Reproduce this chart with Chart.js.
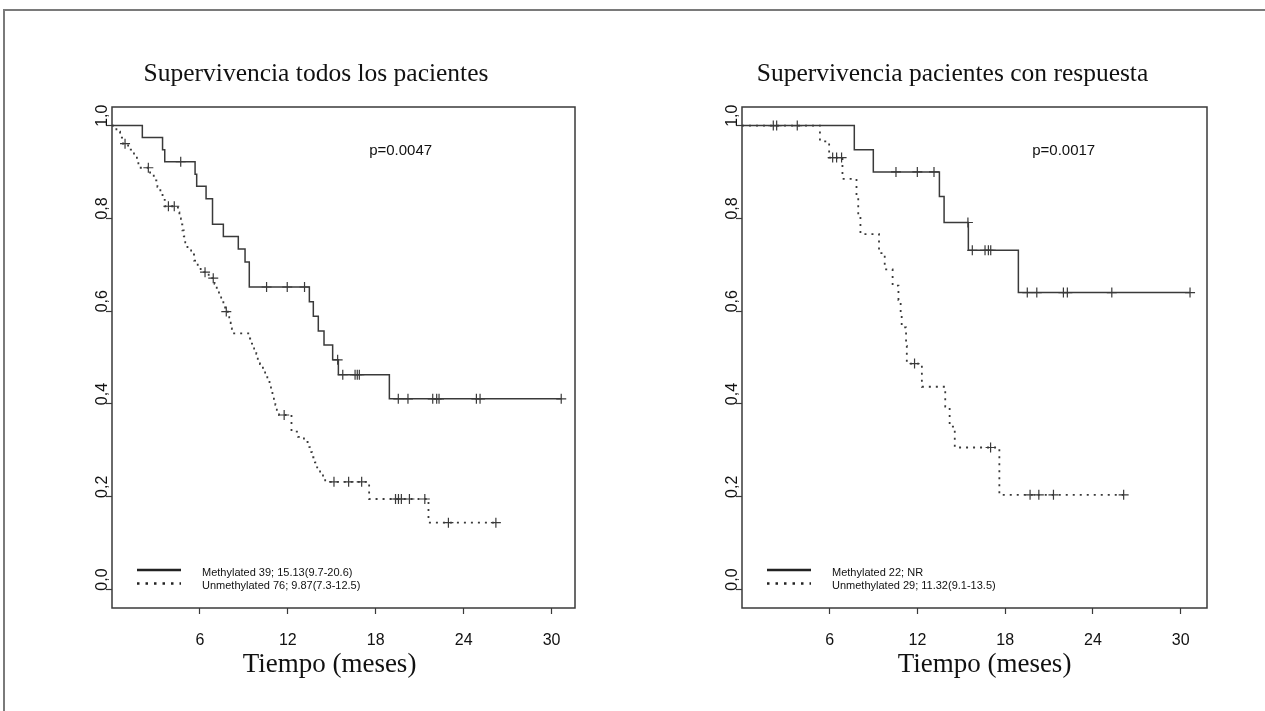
<!DOCTYPE html>
<html>
<head>
<meta charset="utf-8">
<script src="https://cdn.jsdelivr.net/npm/chart.js@4.4.1/dist/chart.umd.min.js"></script>
<style>
  html, body { margin: 0; padding: 0; background: #fff; }
  #page { position: relative; width: 1265px; height: 711px; overflow: hidden; background: #fff; }
  #frame { position: absolute; left: 3px; top: 9px; width: 1400px; height: 900px;
           border-top: 2px solid #7a7a7a; border-left: 2px solid #7a7a7a; }
  .panel { position: absolute; top: 0; }
</style>
</head>
<body>
<div id="page">
  <div id="frame"></div>
  <canvas id="todos" class="panel" width="630" height="711" style="left:0"></canvas>
  <canvas id="respuesta" class="panel" width="635" height="711" style="left:630px"></canvas>
</div>
<script>
const xTicks = [6, 12, 18, 24, 30];
const yTicks = [0, 0.2, 0.4, 0.6, 0.8, 1.0];
const xCaption = 'Tiempo (meses)';

// Supervivencia todos los pacientes
const todosTitle = 'Supervivencia todos los pacientes';
const todosP = 'p=0.0047';
const todosLabels = ['Methylated 39; 15.13(9.7-20.6)', 'Unmethylated 76; 9.87(7.3-12.5)'];

const todosMetTimes = [2.07, 3.45, 3.6, 5.67, 5.78, 6.42, 6.86, 7.6, 8.62, 9.08, 9.37,
  13.47, 13.74, 14.08, 14.47, 15.06, 15.45, 18.93];
const todosMetSurv = [0.974, 0.948, 0.922, 0.895, 0.869, 0.842, 0.787, 0.761, 0.734, 0.706, 0.652,
  0.620, 0.589, 0.557, 0.527, 0.495, 0.463, 0.411];
const todosMetCens = [4.69, 10.55, 11.96, 13.14, 15.4, 15.75, 16.59, 16.74, 16.88,
  19.54, 20.2, 21.89, 22.16, 22.32, 24.87, 25.12, 30.66];

const todosUnmTimes = [0.3, 0.55, 0.75, 1.1, 1.5, 1.7, 1.8, 2.6, 2.85, 3.1, 3.3, 3.45, 3.6,
  4.5, 4.6, 4.7, 4.8, 4.9, 5.0, 5.15, 5.4, 5.6, 5.85, 6.05, 6.6,
  7.0, 7.15, 7.3, 7.45, 7.6, 7.72, 7.9, 8.0, 8.1, 8.18,
  9.3, 9.55, 9.7, 9.85, 9.95, 10.1, 10.3, 10.45, 10.6, 10.75, 10.85, 10.95, 11.05, 11.15, 11.25, 11.4,
  12.25, 12.7, 13.1, 13.35, 13.5, 13.65, 13.85, 14.0, 14.2, 14.4, 14.55, 17.55, 21.6];
const todosUnmSurv = [0.987, 0.974, 0.961, 0.948, 0.935, 0.922, 0.909, 0.895, 0.882, 0.868, 0.854, 0.840, 0.826,
  0.813, 0.800, 0.787, 0.774, 0.761, 0.748, 0.735, 0.722, 0.709, 0.696, 0.684, 0.671,
  0.659, 0.647, 0.635, 0.623, 0.611, 0.599, 0.587, 0.575, 0.563, 0.552,
  0.541, 0.530, 0.519, 0.508, 0.497, 0.486, 0.475, 0.464, 0.453, 0.442, 0.431, 0.420, 0.409, 0.398, 0.387, 0.376,
  0.340, 0.329, 0.318, 0.307, 0.296, 0.285, 0.274, 0.263, 0.252, 0.241, 0.232, 0.195, 0.144];
const todosUnmCens = [0.89, 2.48, 3.85, 4.25, 6.35, 6.91, 7.8, 11.75, 15.15, 16.15, 17.04,
  19.35, 19.55, 19.75, 20.3, 21.35, 22.96, 26.2];

// Supervivencia pacientes con respuesta
const respTitle = 'Supervivencia pacientes con respuesta';
const respP = 'p=0.0017';
const respLabels = ['Methylated 22; NR', 'Unmethylated 29; 11.32(9.1-13.5)'];

const respMetTimes = [7.68, 8.98, 13.5, 13.82, 15.48, 18.9];
const respMetSurv = [0.948, 0.900, 0.847, 0.791, 0.731, 0.640];
const respMetCens = [2.14, 2.37, 3.78, 10.53, 11.99, 13.13, 15.45, 15.75, 16.62, 16.85, 17.01,
  19.51, 20.16, 21.98, 22.25, 25.29, 30.64];

const respUnmTimes = [5.33, 5.96, 6.87, 7.83, 7.95, 8.1, 9.37, 9.76, 10.3, 10.7, 10.85, 10.92,
  11.22, 11.27, 12.3, 13.9, 14.2, 14.55, 17.6];
const respUnmSurv = [0.966, 0.931, 0.885, 0.846, 0.806, 0.766, 0.725, 0.690, 0.655, 0.624, 0.595, 0.565,
  0.525, 0.487, 0.437, 0.394, 0.351, 0.306, 0.204];
const respUnmCens = [6.2, 6.47, 6.81, 11.8, 17.0, 19.7, 20.3, 21.3, 26.1];

const INK = '#3a3a3a';
const SANS = '"Liberation Sans", Arial, sans-serif';
const SERIF = '"Liberation Serif", "Times New Roman", serif';

// Kaplan-Meier step: starts at 1, drops at each event, runs on to the last follow-up
function stepPoints(times, surv, cens) {
  const end = Math.max(...times, ...cens);
  const pts = [{ x: 0, y: 1 }];
  times.forEach((t, i) => pts.push({ x: t, y: surv[i] }));
  pts.push({ x: end, y: surv[surv.length - 1] });
  return pts;
}

function survAt(times, surv, t) {
  let s = 1;
  times.forEach((ti, i) => { if (ti <= t) s = surv[i]; });
  return s;
}

function censorPoints(times, surv, cens) {
  return cens.map(t => ({ x: t, y: survAt(times, surv, t) }));
}

function curve(label, times, surv, cens, dash) {
  return [
    {
      label,
      data: stepPoints(times, surv, cens),
      stepped: true,
      borderColor: INK,
      borderWidth: dash ? 1.8 : 1.5,
      borderDash: dash || [],
      pointRadius: 0,
      fill: false
    },
    {
      label: label + ' (censurados)',
      data: censorPoints(times, surv, cens),
      showLine: false,
      pointStyle: 'cross',
      pointRadius: 5,
      borderColor: INK,
      borderWidth: 1.2
    }
  ];
}

// box round the plot, p value, inline legend and time caption
const panelText = {
  id: 'panelText',
  afterDraw(chart, args, opts) {
    const { ctx, chartArea: a, scales: { x, y } } = chart;
    ctx.save();
    ctx.strokeStyle = INK;
    ctx.lineWidth = 1.5;
    ctx.strokeRect(a.left, a.top, a.right - a.left, a.bottom - a.top);

    ctx.fillStyle = '#111';
    ctx.textBaseline = 'middle';
    ctx.textAlign = 'center';
    ctx.font = '15px ' + SANS;
    ctx.fillText(opts.pText, x.getPixelForValue(opts.pAt[0]), y.getPixelForValue(opts.pAt[1]));

    const curves = chart.data.datasets.filter(d => d.showLine !== false);
    curves.forEach((d, i) => {
      const ly = a.bottom - 38 + i * 13.5;
      ctx.setLineDash(d.borderDash.length ? [2.5, 6] : []);
      ctx.lineWidth = 2.4;
      ctx.strokeStyle = '#222';
      ctx.beginPath();
      ctx.moveTo(a.left + 25, ly);
      ctx.lineTo(a.left + 69, ly);
      ctx.stroke();
      ctx.setLineDash([]);
      ctx.textAlign = 'left';
      ctx.font = '11px ' + SANS;
      ctx.fillText(d.label, a.left + 90, ly + 2.5);
    });

    ctx.textAlign = 'center';
    ctx.font = '27px ' + SERIF;
    ctx.fillText(xCaption, (a.left + a.right) / 2 + opts.captionShift, a.bottom + 57);
    ctx.restore();
  }
};

function makePanel(id, cfg) {
  return new Chart(document.getElementById(id), {
    type: 'line',
    data: { datasets: cfg.datasets },
    options: {
      responsive: false,
      animation: false,
      events: [],
      layout: { padding: { top: 50, left: cfg.padLeft, right: cfg.padRight, bottom: 43 } },
      plugins: {
        legend: { display: false },
        tooltip: { enabled: false },
        title: {
          display: true,
          text: cfg.title,
          color: '#111',
          font: { family: SERIF, size: 25.5, weight: 'normal' },
          padding: { top: 9, bottom: 17.4 }
        },
        panelText: { pText: cfg.pText, pAt: cfg.pAt, captionShift: cfg.captionShift }
      },
      scales: {
        x: {
          type: 'linear',
          min: 0,
          max: cfg.xMax,
          afterBuildTicks: s => { s.ticks = xTicks.map(v => ({ value: v })); },
          afterFit: s => { s.height = 60; },
          border: { display: false },
          grid: { drawOnChartArea: false, tickLength: 6, tickColor: INK, tickWidth: 1.2 },
          ticks: { color: '#111', font: { family: SANS, size: 16 }, padding: 17, maxRotation: 0 }
        },
        y: {
          type: 'linear',
          min: -0.04,
          max: 1.04,
          afterBuildTicks: s => { s.ticks = yTicks.map(v => ({ value: v })); },
          afterFit: s => { s.width = cfg.yWidth; },
          border: { display: false },
          grid: { drawOnChartArea: false, tickLength: 6, tickColor: INK, tickWidth: 1.2 },
          ticks: {
            color: '#111',
            font: { family: SANS, size: 16 },
            minRotation: 90,
            maxRotation: 90,
            crossAlign: 'near',
            padding: 3,
            labelOffset: -21,
            callback: v => v.toFixed(1).replace('.', ',')
          }
        }
      }
    },
    plugins: [panelText]
  });
}

makePanel('todos', {
  title: todosTitle,
  pText: todosP,
  pAt: [19.7, 0.945],
  captionShift: -14,
  xMax: 31.6,
  padLeft: 57,
  padRight: 55,
  yWidth: 55,
  datasets: [
    ...curve(todosLabels[0], todosMetTimes, todosMetSurv, todosMetCens, null),
    ...curve(todosLabels[1], todosUnmTimes, todosUnmSurv, todosUnmCens, [2, 5])
  ]
});

makePanel('respuesta', {
  title: respTitle,
  pText: respP,
  pAt: [22.0, 0.945],
  captionShift: 10,
  xMax: 31.8,
  padLeft: 68,
  padRight: 58,
  yWidth: 44,
  datasets: [
    ...curve(respLabels[0], respMetTimes, respMetSurv, respMetCens, null),
    ...curve(respLabels[1], respUnmTimes, respUnmSurv, respUnmCens, [2, 5])
  ]
});
</script>
</body>
</html>
